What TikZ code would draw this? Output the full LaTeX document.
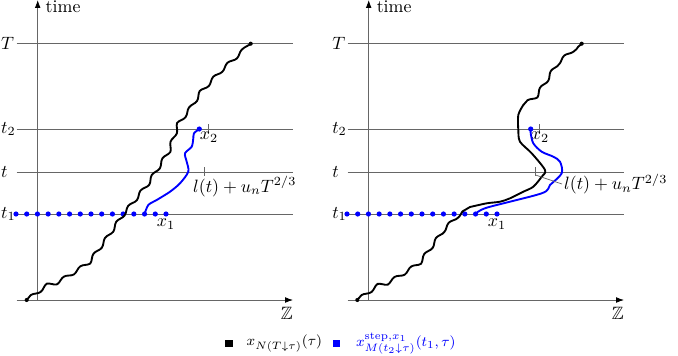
\documentclass[tikz,border=0pt]{standalone}
\usepackage{amsmath,amssymb}
\usetikzlibrary{arrows.meta,positioning,decorations.pathmorphing}

\begin{document}
\begin{tikzpicture}[
  x=0.56pt,y=-0.56pt,
  axis/.style={draw=black!60,line width=0.45pt,-{Latex[length=4.4pt,width=3.2pt,black]}},
  level/.style={draw=black!60,line width=0.45pt},
  walk/.style={line width=1.05pt,line join=round,line cap=round},
  wiggle/.style={decorate,decoration={snake,amplitude=0.9pt,segment length=11pt}},
  bdot/.style={circle,fill=blue,inner sep=0pt,minimum size=2.9pt},
  kdot/.style={circle,fill=black,inner sep=0pt,minimum size=2.3pt},
  tick/.style={draw=black!60,line width=0.4pt},
  lab/.style={inner sep=1pt},
  key/.style={inner sep=0pt,minimum size=4.4pt}
]
\useasboundingbox (0,0) rectangle (678,355);

% frame of both panels
\foreach \s/\p in {0/L,331/R}{
\begin{scope}[shift={(\s,0)}]
  \coordinate (\p zl) at (16.7,300);
  \coordinate (\p ze) at (293,300);
  \coordinate (\p tb) at (37.7,300);
  \coordinate (\p te) at (37.7,0);
  \draw[axis] (\p zl) -- (\p ze);
  \draw[axis] (\p tb) -- (\p te);
  \node[anchor=north west,inner sep=0.5pt] (\p time) at (44.5,0) {time};
  \node[anchor=north east,inner sep=0.5pt] (\p Z) at (294,306) {$\mathbb{Z}$};
  \foreach \n/\y/\l in {T/43.7/T,b/129/t_2,m/172/t,a/214/t_1}{
    \node[anchor=west,inner sep=0.5pt] (\p\n) at (0,\y) {$\l$};
    \draw[level] (16.7,\y) -- (293,\y);
  }
  \foreach \i in {0,...,14}
    \node[bdot] (\p d\i) at (16+\i*10.714,214) {};
  \node[below=0pt of \p d14,lab] (\p x1) {$x_1$};
  \draw[tick] (208,124) -- (208,134);
  \node[lab,anchor=north] (\p x2) at (209,129.5) {$x_2$};
  \draw[tick] (204,167) -- (204,176);
\end{scope}}

% left panel
\draw[walk,wiggle] plot coordinates {(26.7,300) (42,289) (50,287) (67,277)
  (88,263) (107,237) (123,214) (148,183) (166,155)
  (175,129) (192,107) (203,90) (222,70) (250.7,43.7)};
\node[kdot] (Lstart) at (26.7,300) {};
\node[kdot] (Lend) at (250.7,43.7) {};
\draw[walk,blue] plot[smooth] coordinates {(144.6,214) (148.3,205) (156.7,200) (170,191.7)
  (180,183.3) (188.3,171.7) (186.7,161.7) (185,153.3) (191.7,146.7) (193.3,138.3)
  (194,133.3) (199.3,129)};
\node[bdot] (Ltop) at (199.3,129) {};
\node[lab,anchor=north west] (Lell) at (191,174) {$l(t)+u_nT^{2/3}$};

% right panel
\draw[walk,wiggle] plot coordinates {(357.3,300) (373,289) (381,287)
  (398,277) (419,263) (438,237) (460,214) (470,207)};
\draw[walk] plot[smooth] coordinates {(470,207) (486.7,203.3) (500,201.7) (510,198.3)
  (523.3,191.7) (533.3,186.7) (541.7,176.7) (545,170) (531.7,153.3) (520,141.7)
  (518.3,130) (518.3,115) (523.3,105)};
\draw[walk,wiggle] plot coordinates {(523.3,105) (533.3,98.3) (551.7,70)
  (581.7,43.7)};
\node[kdot] (Rstart) at (357.3,300) {};
\node[kdot] (Rend) at (581.7,43.7) {};
\draw[walk,blue] plot[smooth] coordinates {(475.6,214) (486.7,207.7) (541.7,193.3)
  (550,185) (561.7,173.3) (560,161.7) (553.3,156.7) (541.7,151.7) (533.3,143.3)
  (530.7,133.3) (530.7,129)};
\node[bdot] (Rtop) at (530.7,129) {};
\coordinate (Rtk) at (535.5,175);
\node[lab,anchor=west] (Rell) at (562,184) {$l(t)+u_nT^{2/3}$};
\draw[tick] (Rtk) -- (Rell.west);

% legend
\node[key,fill=black] (kA) at (229,343.5) {};
\node[right=4pt of kA,font=\footnotesize] (legA) {$x_{N(T\downarrow\tau)}(\tau)$};
\node[key,fill=blue] (kB) at (336.5,343.5) {};
\node[right=5pt of kB,font=\footnotesize,text=blue] (legB) {$x^{\mathrm{step},x_1}_{M(t_2\downarrow\tau)}(t_1,\tau)$};
\end{tikzpicture}
\end{document}
